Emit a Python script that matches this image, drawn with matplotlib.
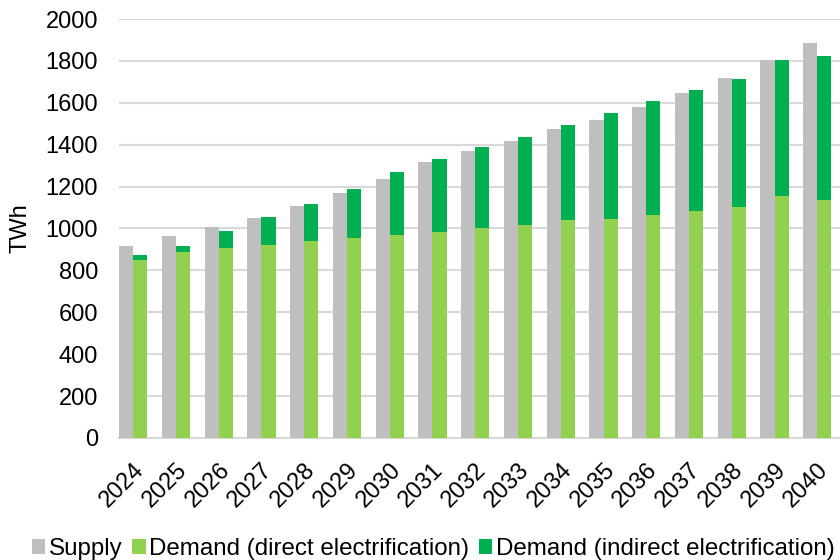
import numpy as np
from matplotlib import pyplot as plt

plt.rcParams['font.family'] = ['Liberation Sans', 'DejaVu Sans']

years = [str(y) for y in range(2024, 2041)]
supply = [918, 964, 1009, 1048, 1109, 1168, 1238, 1317, 1370, 1419,
          1476, 1519, 1580, 1647, 1718, 1803, 1885]
demand_direct = [848, 888, 907, 923, 940, 955, 967, 983, 1001, 1018,
                 1039, 1047, 1066, 1085, 1103, 1153, 1136]
demand_total = [875, 915, 988, 1055, 1118, 1189, 1270, 1333, 1388, 1438,
                1492, 1553, 1609, 1663, 1714, 1806, 1825]
demand_indirect = [t - d for t, d in zip(demand_total, demand_direct)]

x = np.arange(len(years))
w = 0.33

fig = plt.figure(figsize=(8.4, 5.6), dpi=100)
ax = fig.add_axes([0.1417, 0.218, 0.8583, 0.748])

ax.bar(x - w/2, supply, w, color='#bfbfbf', label='Supply', zorder=3)
ax.bar(x + w/2, demand_direct, w, color='#92d050',
       label='Demand (direct electrification)', zorder=3)
ax.bar(x + w/2, demand_indirect, w, bottom=demand_direct, color='#00b050',
       label='Demand (indirect electrification)', zorder=3)

ax.set_ylim(0, 2000)
ax.set_yticks(range(0, 2001, 200))
ax.set_xlim(-0.33, 16.53)
ax.set_xticks(x)
ax.set_xticklabels(years, rotation=45, ha='right', va='top',
                   rotation_mode='anchor')
ax.tick_params(axis='both', length=0, labelsize=17)
ax.tick_params(axis='x', pad=15)
ax.tick_params(axis='y', pad=15)
ax.set_ylabel('TWh', fontsize=17)
ax.yaxis.set_label_coords(-0.121, 0.5)

ax.grid(axis='y', color='#d9d9d9', linewidth=1.5, zorder=0)
for s in ['top', 'right', 'left']:
    ax.spines[s].set_visible(False)
ax.spines['bottom'].set_color('#d9d9d9')
ax.spines['bottom'].set_linewidth(1.5)

fig.legend(loc='lower left', bbox_to_anchor=(0.018, -0.03), ncol=3,
           frameon=False, fontsize=17.4, handlelength=0.55, handleheight=0.55,
           handletextpad=0.15, columnspacing=0.4, borderpad=0.2)

fig.savefig('out.png', dpi=100)
